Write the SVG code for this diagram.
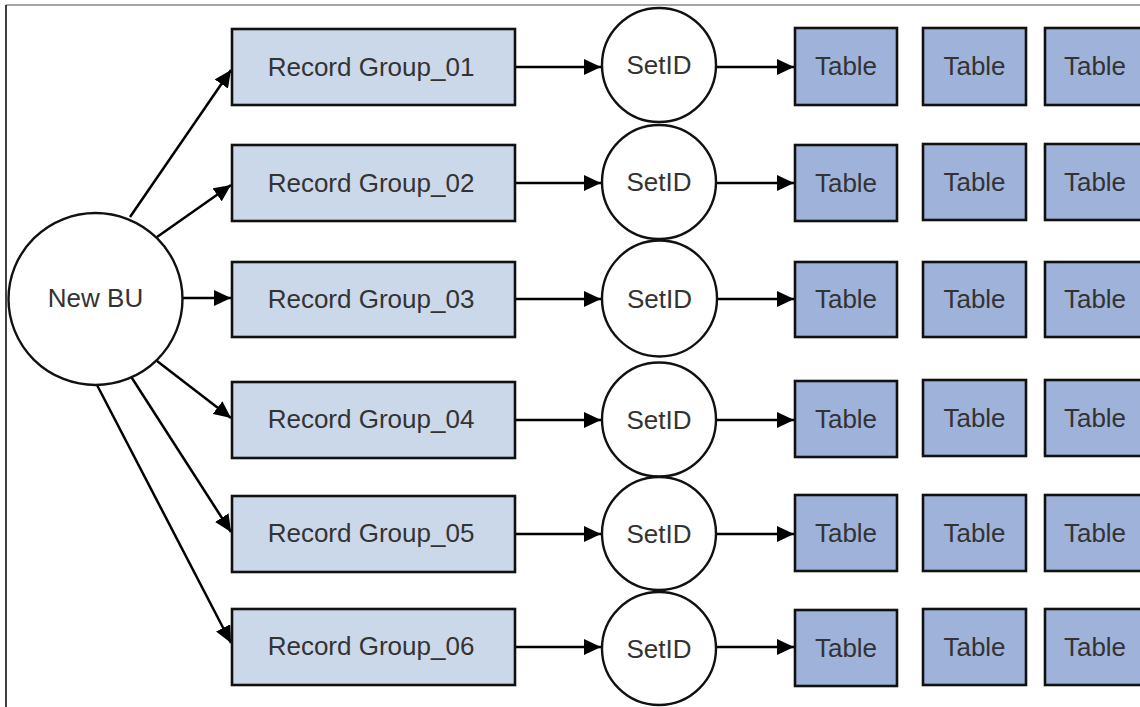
<svg xmlns="http://www.w3.org/2000/svg" width="1140" height="707" viewBox="0 0 1140 707">
<defs>
<style>
.rg{fill:#cbd8ea;stroke:#111;stroke-width:2.6}
.tb{fill:#9eb2da;stroke:#111;stroke-width:2.6}
.ci{fill:#fff;stroke:#111;stroke-width:2.4}
.t{font-family:"Liberation Sans",Arial,sans-serif;font-size:26px;fill:#333;text-anchor:middle;dominant-baseline:central}
.c{stroke:#000;stroke-width:2.5;fill:none;marker-end:url(#ah)}
</style>
<marker id="ah" markerUnits="userSpaceOnUse" markerWidth="18" markerHeight="16" refX="17" refY="8" orient="auto">
<path d="M0,0 L17,8 L0,16 Z" fill="#000"/>
</marker>
</defs>
<rect width="1140" height="707" fill="#fff"/>
<line x1="6" y1="5" x2="1140" y2="5" stroke="#888" stroke-width="1.5"/>
<line x1="6" y1="5" x2="6" y2="707" stroke="#000" stroke-width="1.5"/>

<g id="connectors">
<line class="c" x1="130" y1="217" x2="231" y2="70"/>
<line class="c" x1="157" y1="237" x2="231" y2="185"/>
<line class="c" x1="183" y1="298" x2="231" y2="298"/>
<line class="c" x1="157" y1="361" x2="231" y2="418"/>
<line class="c" x1="130" y1="375" x2="231" y2="532"/>
<line class="c" x1="97" y1="385" x2="231" y2="643"/>
<line class="c" x1="515" y1="67" x2="601" y2="67"/>
<line class="c" x1="515" y1="183" x2="601" y2="183"/>
<line class="c" x1="515" y1="299" x2="601" y2="299"/>
<line class="c" x1="515" y1="420" x2="601" y2="420"/>
<line class="c" x1="515" y1="534" x2="601" y2="534"/>
<line class="c" x1="515" y1="647" x2="601" y2="647"/>
<line class="c" x1="716" y1="67" x2="794" y2="67"/>
<line class="c" x1="716" y1="183" x2="794" y2="183"/>
<line class="c" x1="717" y1="299" x2="794" y2="299"/>
<line class="c" x1="716" y1="420" x2="794" y2="420"/>
<line class="c" x1="716" y1="534" x2="794" y2="534"/>
<line class="c" x1="716" y1="647" x2="794" y2="647"/>
</g>

<g id="newbu"><ellipse class="ci" cx="95.5" cy="299" rx="87" ry="86"/><text class="t" x="95.5" y="298">New BU</text></g>

<g id="rg01"><rect class="rg" x="232" y="29" width="283" height="76"/><text class="t" x="371" y="67">Record Group_01</text></g>
<g id="rg02"><rect class="rg" x="232" y="145" width="283" height="76"/><text class="t" x="371" y="183">Record Group_02</text></g>
<g id="rg03"><rect class="rg" x="232" y="262" width="283" height="75"/><text class="t" x="371" y="299">Record Group_03</text></g>
<g id="rg04"><rect class="rg" x="232" y="382" width="283" height="76"/><text class="t" x="371" y="419">Record Group_04</text></g>
<g id="rg05"><rect class="rg" x="232" y="496" width="283" height="76"/><text class="t" x="371" y="533">Record Group_05</text></g>
<g id="rg06"><rect class="rg" x="232" y="609" width="283" height="76"/><text class="t" x="371" y="646">Record Group_06</text></g>

<g id="set01"><ellipse class="ci" cx="659" cy="65" rx="57" ry="57"/><text class="t" x="659" y="65">SetID</text></g>
<g id="set02"><ellipse class="ci" cx="659" cy="182" rx="57" ry="57"/><text class="t" x="659" y="182">SetID</text></g>
<g id="set03"><ellipse class="ci" cx="659.5" cy="298.5" rx="57.5" ry="58"/><text class="t" x="659.5" y="298.5">SetID</text></g>
<g id="set04"><ellipse class="ci" cx="659" cy="419.5" rx="57" ry="57"/><text class="t" x="659" y="419.5">SetID</text></g>
<g id="set05"><ellipse class="ci" cx="659" cy="533.5" rx="57" ry="56.5"/><text class="t" x="659" y="533.5">SetID</text></g>
<g id="set06"><ellipse class="ci" cx="659" cy="648.5" rx="57" ry="56.5"/><text class="t" x="659" y="648.5">SetID</text></g>

<g id="tables">
<g id="t11"><rect class="tb" x="795" y="28" width="102" height="77"/><text class="t" x="846" y="66">Table</text></g>
<g id="t12"><rect class="tb" x="923" y="28" width="103" height="77"/><text class="t" x="974.5" y="66">Table</text></g>
<g id="t13"><rect class="tb" x="1045" y="28" width="110" height="77"/><text class="t" x="1095" y="66">Table</text></g>
<g id="t21"><rect class="tb" x="795" y="145" width="102" height="76"/><text class="t" x="846" y="183">Table</text></g>
<g id="t22"><rect class="tb" x="923" y="144" width="103" height="76"/><text class="t" x="974.5" y="182">Table</text></g>
<g id="t23"><rect class="tb" x="1045" y="144" width="110" height="76"/><text class="t" x="1095" y="182">Table</text></g>
<g id="t31"><rect class="tb" x="795" y="262" width="102" height="75"/><text class="t" x="846" y="299">Table</text></g>
<g id="t32"><rect class="tb" x="923" y="262" width="103" height="75"/><text class="t" x="974.5" y="299">Table</text></g>
<g id="t33"><rect class="tb" x="1045" y="262" width="110" height="75"/><text class="t" x="1095" y="299">Table</text></g>
<g id="t41"><rect class="tb" x="795" y="381" width="102" height="76"/><text class="t" x="846" y="419">Table</text></g>
<g id="t42"><rect class="tb" x="923" y="380" width="103" height="76"/><text class="t" x="974.5" y="418">Table</text></g>
<g id="t43"><rect class="tb" x="1045" y="380" width="110" height="76"/><text class="t" x="1095" y="418">Table</text></g>
<g id="t51"><rect class="tb" x="795" y="495" width="102" height="76"/><text class="t" x="846" y="533">Table</text></g>
<g id="t52"><rect class="tb" x="923" y="495" width="103" height="76"/><text class="t" x="974.5" y="533">Table</text></g>
<g id="t53"><rect class="tb" x="1045" y="495" width="110" height="76"/><text class="t" x="1095" y="533">Table</text></g>
<g id="t61"><rect class="tb" x="795" y="610" width="102" height="76"/><text class="t" x="846" y="648">Table</text></g>
<g id="t62"><rect class="tb" x="923" y="609" width="103" height="76"/><text class="t" x="974.5" y="647">Table</text></g>
<g id="t63"><rect class="tb" x="1045" y="609" width="110" height="76"/><text class="t" x="1095" y="647">Table</text></g>
</g>
</svg>
